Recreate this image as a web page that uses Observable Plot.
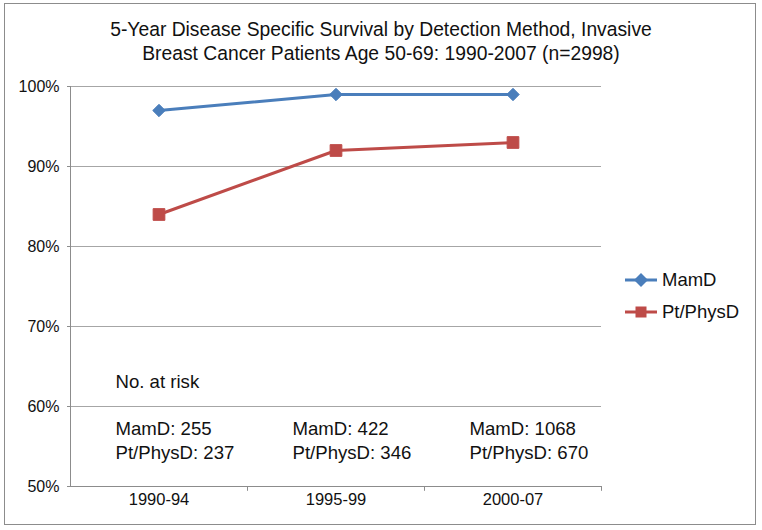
<!DOCTYPE html>
<html>
<head>
<meta charset="utf-8">
<script src="https://cdn.jsdelivr.net/npm/d3@7"></script>
<script src="https://cdn.jsdelivr.net/npm/@observablehq/plot@0.6"></script>
<style>
  html, body { margin: 0; padding: 0; background: #fff; }
  #wrap { position: relative; width: 762px; height: 530px; font-family: "Liberation Sans", Arial, sans-serif; }
  #border { position: absolute; left: 4px; top: 3px; width: 752px; height: 522px; border: 1px solid #8c8c8c; box-sizing: border-box; }
  #title { position: absolute; left: 0; top: 18px; width: 762px; text-align: center; font-size: 19.3px; line-height: 24px; color: #111; }
  #chart { position: absolute; left: 0; top: 0; }
  .leg { position: absolute; left: 625px; display: flex; align-items: center; font-size: 18.5px; color: #111; }
  .leg svg { margin-right: 5px; }
</style>
</head>
<body>
<div id="wrap">
  <div id="border"></div>
  <div id="chart"></div>
  <div id="title">5-Year Disease Specific Survival by Detection Method, Invasive<br>Breast Cancer Patients Age 50-69: 1990-2007 (n=2998)</div>
  <div id="legend"></div>
</div>
<script>
const categories = ["1990-94", "1995-99", "2000-07"];
const mamdValues = [97, 99, 99];
const ptPhysValues = [84, 92, 93];
const mamdAtRisk = [255, 422, 1068];
const ptPhysAtRisk = [237, 346, 670];
const yTicks = [50, 60, 70, 80, 90, 100];
const seriesNames = ["MamD", "Pt/PhysD"];
const seriesColors = ["#4A7EBB", "#BE4B48"];

const rows = [];
categories.forEach((c, i) => {
  rows.push({period: c, series: seriesNames[0], value: mamdValues[i]});
  rows.push({period: c, series: seriesNames[1], value: ptPhysValues[i]});
});
const atRisk = categories.map((c, i) => ({
  period: c,
  label: `${seriesNames[0]}: ${mamdAtRisk[i]}\n${seriesNames[1]}: ${ptPhysAtRisk[i]}`
}));

const chart = Plot.plot({
  width: 762,
  height: 530,
  marginLeft: 70,
  marginRight: 161,
  marginTop: 86,
  marginBottom: 44,
  style: {fontFamily: "Liberation Sans, Arial, sans-serif", background: "transparent", color: "#111"},
  x: {type: "band", domain: categories, padding: 0},
  y: {domain: [50, 100]},
  color: {domain: seriesNames, range: seriesColors},
  marks: [
    Plot.gridY(yTicks, {stroke: "#a6a6a6", strokeOpacity: 1, strokeWidth: 1}),
    Plot.frame({anchor: "left", stroke: "#8c8c8c"}),
    Plot.frame({anchor: "bottom", stroke: "#8c8c8c"}),
    Plot.ruleX(categories, {x: d => d, y1: 50, y2: 49.4, dx: 88.5, stroke: "#8c8c8c"}),
    Plot.axisY(yTicks, {tickFormat: d => d + "%", tickSize: 3, tickPadding: 8, fontSize: 16, stroke: "#8c8c8c", label: null}),
    Plot.axisX({tickSize: 0, tickPadding: 7, fontSize: 16.5, label: null}),
    Plot.text(["No. at risk"], {x: () => categories[0], y: () => 63.1, dx: -43.5, textAnchor: "start", fontSize: 18.6, fill: "#111"}),
    Plot.text(atRisk, {x: "period", y: () => 55.9, text: "label", dx: -43.5, textAnchor: "start", lineAnchor: "middle", lineHeight: 1.3, fontSize: 18.6, fill: "#111"}),
    Plot.line(rows, {x: "period", y: "value", z: "series", stroke: "series", strokeWidth: 3}),
    Plot.dot(rows, {filter: d => d.series === seriesNames[0], x: "period", y: "value", symbol: "diamond2", fill: "series", stroke: "series", strokeWidth: 1, r: 5.6}),
    Plot.dot(rows, {filter: d => d.series === seriesNames[1], x: "period", y: "value", symbol: "square", fill: "series", stroke: "series", strokeWidth: 1, r: 6.6})
  ]
});
document.getElementById("chart").appendChild(chart);

const legend = document.getElementById("legend");
const legendTops = [269, 301];
seriesNames.forEach((name, i) => {
  const row = document.createElement("div");
  row.className = "leg";
  row.style.top = legendTops[i] + "px";
  const sym = i === 0
    ? `<polygon points="16,1 23,8 16,15 9,8" fill="${seriesColors[i]}"/>`
    : `<rect x="10.5" y="2.5" width="11" height="11" fill="${seriesColors[i]}"/>`;
  row.innerHTML = `<svg width="32" height="16"><line x1="0" x2="32" y1="8" y2="8" stroke="${seriesColors[i]}" stroke-width="3"/>${sym}</svg><span>${name}</span>`;
  legend.appendChild(row);
});
</script>
</body>
</html>
